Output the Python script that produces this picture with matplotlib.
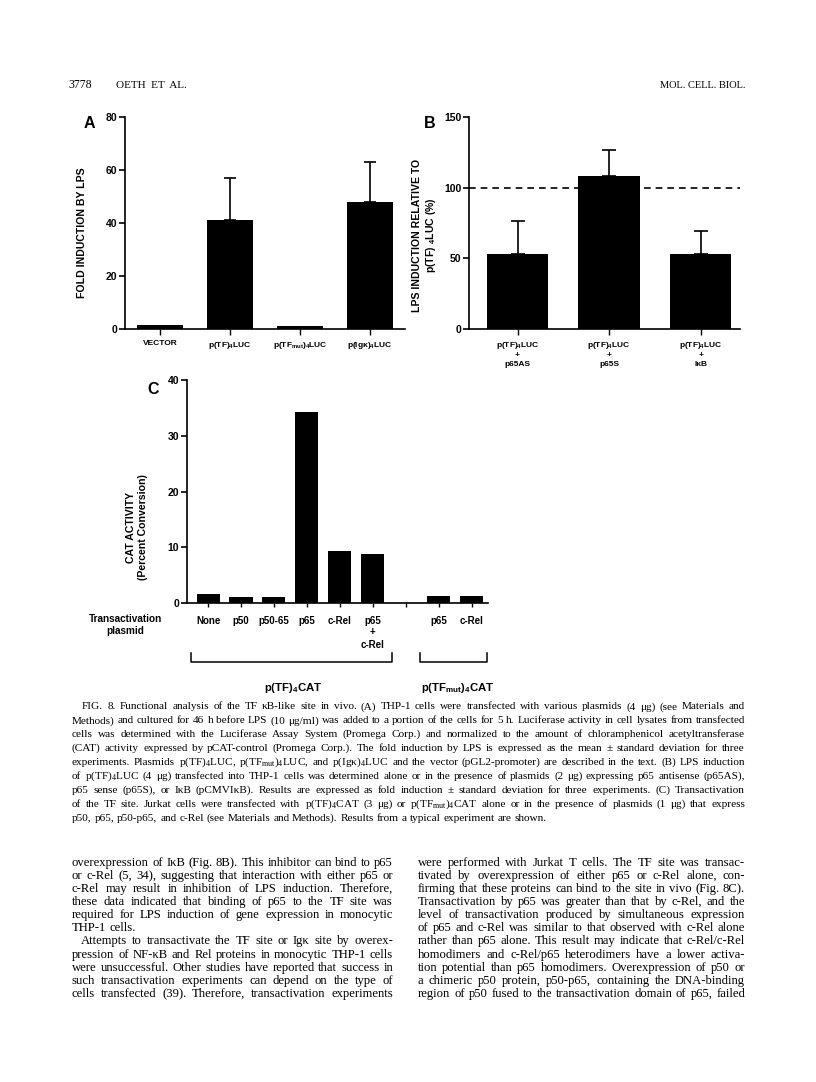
import numpy as np
import matplotlib
matplotlib.use("Agg")
import matplotlib.pyplot as plt
from matplotlib.lines import Line2D
from matplotlib.transforms import blended_transform_factory

plt.rcParams['font.family'] = ['Liberation Sans', 'DejaVu Sans']
plt.rcParams['font.weight'] = 'bold'
plt.rcParams['mathtext.default'] = 'regular'

# ---------------- data ----------------
a_labels = ["VECTOR", "p(TF)$_4$LUC", "p(TF$_{mut}$)$_4$LUC", "p(Igκ)$_4$LUC"]
a_values = [1.6, 41.0, 1.3, 48.0]
a_errors = [0.0, 16.0, 0.0, 15.0]

b_labels = ["p(TF)$_4$LUC\n+\np65AS", "p(TF)$_4$LUC\n+\np65S", "p(TF)$_4$LUC\n+\nIκB"]
b_values = [53.0, 108.5, 53.0]
b_errors = [23.5, 18.5, 16.5]
b_reference = 100

c_labels = ["None", "p50", "p50-65", "p65", "c-Rel", "p65\n+\nc-Rel", "", "p65", "c-Rel"]
c_values = [1.7, 1.1, 1.1, 34.2, 9.3, 8.8, 0.0, 1.3, 1.3]
c_groups = ["p(TF)$_4$CAT", "p(TF$_{mut}$)$_4$CAT"]

W, H = 816, 1082
fig = plt.figure(figsize=(W / 100, H / 100), dpi=100)
fig.patch.set_facecolor('white')


def fx(px):
    return px / W


def fy(py):
    return 1 - py / H


def style_axes(ax, xlabelsize):
    for s in ['top', 'right']:
        ax.spines[s].set_visible(False)
    for s in ['left', 'bottom']:
        ax.spines[s].set_linewidth(1.2)
    ax.tick_params(axis='y', direction='out', length=4, width=1.2, pad=1.5,
                   labelsize=7.5)
    ax.tick_params(axis='x', direction='out', length=4, width=1.0, pad=4,
                   labelsize=xlabelsize)
    for lab in ax.get_yticklabels() + ax.get_xticklabels():
        lab.set_fontweight('bold')


# ---------------- Panel A ----------------
ax_a = fig.add_axes([fx(125), fy(329), 280 / W, 212 / H])
xa = np.arange(len(a_values))
ax_a.bar(xa, a_values, width=0.67, color='black')
ea = np.array(a_errors)
m = ea > 0
ax_a.errorbar(xa[m], np.array(a_values)[m], yerr=[np.zeros(m.sum()), ea[m]],
              fmt='none', ecolor='black', elinewidth=1.2, capsize=4, capthick=1.2)
ax_a.set_xlim(-0.5, 3.5)
ax_a.set_ylim(0, 80)
ax_a.set_yticks([0, 20, 40, 60, 80])
ax_a.set_xticks(xa)
ax_a.set_xticklabels(a_labels)
style_axes(ax_a, 6)
fig.text(fx(82), fy(233), "FOLD INDUCTION BY LPS", rotation=90, ha='center',
         va='center', fontsize=7.6, fontweight='bold')
fig.text(fx(89), fy(124), "A", ha='center', va='center', fontsize=11.5,
         fontweight='bold')

# ---------------- Panel B ----------------
ax_b = fig.add_axes([fx(469), fy(329), 271 / W, 212 / H])
xb = np.arange(len(b_values))
ax_b.bar(xb, b_values, width=0.67, color='black')
ax_b.errorbar(xb, b_values, yerr=[np.zeros(len(b_errors)), b_errors],
              fmt='none', ecolor='black', elinewidth=1.2, capsize=5, capthick=1.2)
ax_b.axhline(b_reference, color='black', lw=1.2, ls=(0, (4, 3)), zorder=0)
ax_b.set_xlim(-0.53, 2.43)
ax_b.set_ylim(0, 150)
ax_b.set_yticks([0, 50, 100, 150])
ax_b.set_xticks(xb)
ax_b.set_xticklabels(b_labels, linespacing=1.25)
style_axes(ax_b, 6)
fig.text(fx(425), fy(235), "LPS INDUCTION RELATIVE TO\np(TF) $_4$LUC (%)",
         rotation=90, ha='center', va='center', fontsize=7.6,
         fontweight='bold', linespacing=1.2, multialignment='center')
fig.text(fx(430), fy(124), "B", ha='center', va='center', fontsize=11.5,
         fontweight='bold')

# ---------------- Panel C ----------------
ax_c = fig.add_axes([fx(187), fy(603), 301 / W, 223 / H])
xc = np.arange(len(c_values))
ax_c.bar(xc, c_values, width=0.7, color='black')
ax_c.set_xlim(-0.64, 8.5)
ax_c.set_ylim(0, 40)
ax_c.set_yticks([0, 10, 20, 30, 40])
ax_c.set_xticks(xc)
ax_c.set_xticklabels(c_labels, linespacing=1.25)
style_axes(ax_c, 7)
ax_c.tick_params(axis='x', length=3, pad=6)
fig.text(fx(137), fy(527), "CAT ACTIVITY\n(Percent Conversion)", rotation=90,
         ha='center', va='center', fontsize=7.6, fontweight='bold',
         linespacing=1.15, multialignment='center')
fig.text(fx(153), fy(389), "C", ha='center', va='center', fontsize=11.5,
         fontweight='bold')
fig.text(fx(125), fy(625), "Transactivation\nplasmid", ha='center', va='center',
         fontsize=7.2, fontweight='bold', linespacing=1.3,
         multialignment='center')

# brackets
tr = blended_transform_factory(ax_c.transData, fig.transFigure)
for (x0, x1) in [(-0.52, 5.58), (6.45, 8.48)]:
    ln = Line2D([x0, x0, x1, x1], [fy(653), fy(662), fy(662), fy(653)],
                transform=tr, color='black', lw=1.1, clip_on=False)
    fig.add_artist(ln)
fig.text(fx(293), fy(688), c_groups[0], ha='center', va='center', fontsize=8.2,
         fontweight='bold')
fig.text(fx(458), fy(688), c_groups[1], ha='center', va='center', fontsize=8.2,
         fontweight='bold')

# ---------------- header ----------------
serif = ['Liberation Serif', 'DejaVu Serif']
fig.text(fx(68), fy(85), "3778", ha='left', va='center', fontsize=8.5,
         family=serif, fontweight='normal')
fig.text(fx(116), fy(85), "OETH  ET  AL.", ha='left', va='center', fontsize=8,
         family=serif, fontweight='normal')
fig.text(fx(745), fy(85), "MOL. CELL. BIOL.", ha='right', va='center',
         fontsize=7.5, family=serif, fontweight='normal')

# ---------------- justified text ----------------
renderer = fig.canvas.get_renderer()


def natural_width(text, size):
    t = fig.text(0, 0, text, fontsize=size, family=serif, fontweight='normal')
    w = t.get_window_extent(renderer).width
    t.remove()
    return w


def fit_size(lines, s0=8.0):
    best = None
    for text, x0, x1, j in lines:
        if not j:
            continue
        s = s0 * (x1 - x0) / natural_width(text, s0)
        best = s if best is None else min(best, s)
    return best * 0.995


def place_line(text, x0, x1, yc, size, justify=True):
    words = text.split(' ')
    em = size * 100 / 72
    yb = yc + 0.3 * em
    objs = []
    widths = []
    for w in words:
        t = fig.text(0, 0, w, fontsize=size, family=serif, fontweight='normal',
                     ha='left', va='baseline')
        objs.append(t)
        widths.append(t.get_window_extent(renderer).width)
    total = sum(widths)
    if justify and len(words) > 1:
        gap = (x1 - x0 - total) / (len(words) - 1)
    else:
        gap = natural_width("a a", size) - natural_width("aa", size)
    x = x0
    for t, wd in zip(objs, widths):
        t.set_position((fx(x), fy(yb)))
        x += wd + gap


caption = [
    "FIG. 8. Functional analysis of the TF κB-like site in vivo. (A) THP-1 cells were transfected with various plasmids (4 μg) (see Materials and",
    "Methods) and cultured for 46 h before LPS (10 μg/ml) was added to a portion of the cells for 5 h. Luciferase activity in cell lysates from transfected",
    "cells was determined with the Luciferase Assay System (Promega Corp.) and normalized to the amount of chloramphenicol acetyltransferase",
    "(CAT) activity expressed by pCAT-control (Promega Corp.). The fold induction by LPS is expressed as the mean ± standard deviation for three",
    "experiments. Plasmids p(TF)$_4$LUC, p(TF$_{mut}$)$_4$LUC, and p(Igκ)$_4$LUC and the vector (pGL2-promoter) are described in the text. (B) LPS induction",
    "of p(TF)$_4$LUC (4 μg) transfected into THP-1 cells was determined alone or in the presence of plasmids (2 μg) expressing p65 antisense (p65AS),",
    "p65 sense (p65S), or IκB (pCMVIκB). Results are expressed as fold induction ± standard deviation for three experiments. (C) Transactivation",
    "of the TF site. Jurkat cells were transfected with p(TF)$_4$CAT (3 μg) or p(TF$_{mut}$)$_4$CAT alone or in the presence of plasmids (1 μg) that express",
    "p50, p65, p50-p65, and c-Rel (see Materials and Methods). Results from a typical experiment are shown.",
]
cap_lines = []
for i, line in enumerate(caption):
    x0 = 82 if i == 0 else 72
    cap_lines.append((line, x0, 745, i < len(caption) - 1))
cap_size = fit_size(cap_lines)
for i, (line, x0, x1, j) in enumerate(cap_lines):
    place_line(line, x0, x1, 706 + 13.9 * i, cap_size, justify=j)

left_col = [
    ("overexpression of IκB (Fig. 8B). This inhibitor can bind to p65", 72, True),
    ("or c-Rel (5, 34), suggesting that interaction with either p65 or", 72, True),
    ("c-Rel may result in inhibition of LPS induction. Therefore,", 72, True),
    ("these data indicated that binding of p65 to the TF site was", 72, True),
    ("required for LPS induction of gene expression in monocytic", 72, True),
    ("THP-1 cells.", 72, False),
    ("Attempts to transactivate the TF site or Igκ site by overex-", 81, True),
    ("pression of NF-κB and Rel proteins in monocytic THP-1 cells", 72, True),
    ("were unsuccessful. Other studies have reported that success in", 72, True),
    ("such transactivation experiments can depend on the type of", 72, True),
    ("cells transfected (39). Therefore, transactivation experiments", 72, True),
]
right_col = [
    "were performed with Jurkat T cells. The TF site was transac-",
    "tivated by overexpression of either p65 or c-Rel alone, con-",
    "firming that these proteins can bind to the site in vivo (Fig. 8C).",
    "Transactivation by p65 was greater than that by c-Rel, and the",
    "level of transactivation produced by simultaneous expression",
    "of p65 and c-Rel was similar to that observed with c-Rel alone",
    "rather than p65 alone. This result may indicate that c-Rel/c-Rel",
    "homodimers and c-Rel/p65 heterodimers have a lower activa-",
    "tion potential than p65 homodimers. Overexpression of p50 or",
    "a chimeric p50 protein, p50-p65, containing the DNA-binding",
    "region of p50 fused to the transactivation domain of p65, failed",
]
body_lines = [(t, x0, 393, j) for (t, x0, j) in left_col] + \
             [(t, 418, 745, True) for t in right_col]
body_size = fit_size(body_lines)
for i, (line, x0, j) in enumerate(left_col):
    place_line(line, x0, 393, 862 + 13.1 * i, body_size, justify=j)
for i, line in enumerate(right_col):
    place_line(line, 418, 745, 862 + 13.1 * i, body_size, justify=True)

fig.savefig("out.png", dpi=100, facecolor='white')
